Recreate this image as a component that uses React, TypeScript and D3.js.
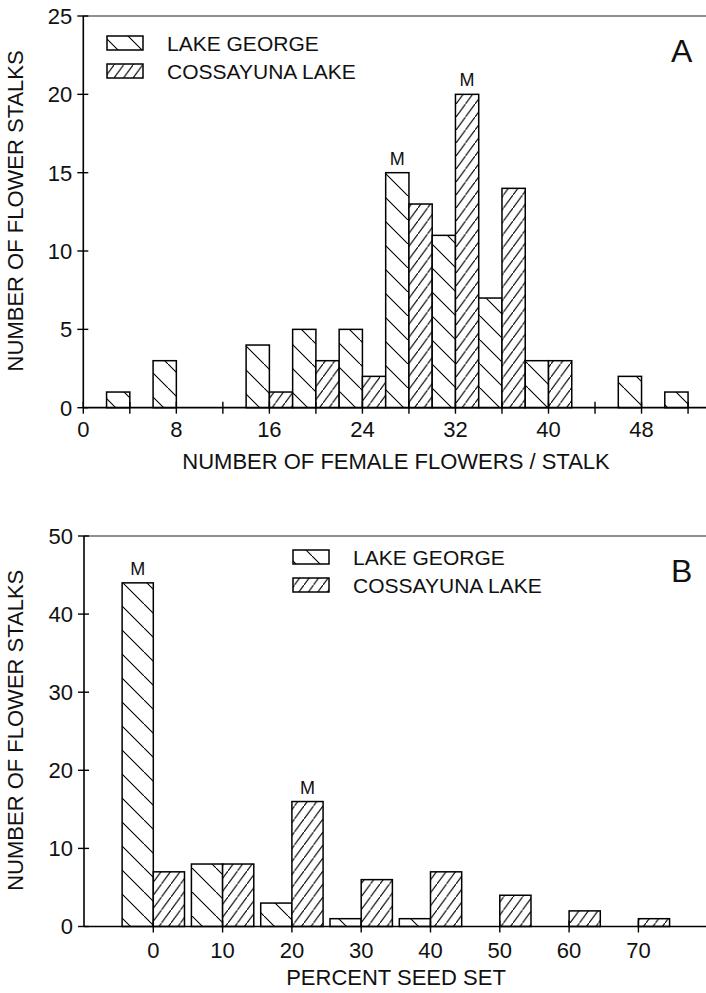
import React from 'react'
import * as d3 from 'd3'

// panel A: number of female flowers per stalk (class centres, 4 wide)
const flowerClasses = [4, 8, 12, 16, 20, 24, 28, 32, 36, 40, 44, 48, 52]
const lakeGeorgeFlowers = [1, 3, 0, 4, 5, 5, 15, 11, 7, 3, 0, 2, 1]
const cossayunaFlowers = [0, 0, 0, 1, 3, 2, 13, 20, 14, 3, 0, 0, 0]
const flowerXTicks = [0, 4, 8, 12, 16, 20, 24, 28, 32, 36, 40, 44, 48, 52]
const flowerXLabels = [0, 8, 16, 24, 32, 40, 48]
const flowerYTicks = [0, 5, 10, 15, 20, 25]
const flowerMedians = [28, 32] // lake george, cossayuna

// panel B: percent seed set
const seedClasses = [0, 10, 20, 30, 40, 50, 60, 70]
const lakeGeorgeSeed = [44, 8, 3, 1, 1, 0, 0, 0]
const cossayunaSeed = [7, 8, 16, 6, 7, 4, 2, 1]
const seedXTicks = [0, 10, 20, 30, 40, 50, 60, 70]
const seedYTicks = [0, 10, 20, 30, 40, 50]
const seedMedians = [0, 20]

const seriesNames = ['LAKE GEORGE', 'COSSAYUNA LAKE']

const FONT = '"Liberation Sans", Arial, Helvetica, sans-serif'
const W = 706

function Panel(props: any) {
  const { x, y, classes, lg, cs, half, xTicks, xLabels, yTicks, medians,
    xTitle, letter, legendX, legendY, xLabelY, xTitleY } = props
  const [y0, y1] = y.range()
  const x0 = x.range()[0]

  const bars: any[] = []
  classes.forEach((c: number, i: number) => {
    if (lg[i] > 0) bars.push({ x1: c - half, x2: c, v: lg[i], fill: 'url(#hatchLG)', key: 'lg' + c, m: medians[0] === c })
    if (cs[i] > 0) bars.push({ x1: c, x2: c + half, v: cs[i], fill: 'url(#hatchCS)', key: 'cs' + c, m: medians[1] === c })
  })

  return (
    <g>
      {/* frame */}
      <line x1={x0} x2={W + 2} y1={y1} y2={y1} stroke="#222" strokeWidth={1.2} />
      <line x1={x0} x2={x0} y1={y0} y2={y1} stroke="#000" strokeWidth={1.6} />

      {bars.map(b => (
        <g key={b.key}>
          <rect x={x(b.x1)} y={y(b.v)} width={x(b.x2) - x(b.x1)} height={y0 - y(b.v)}
            fill="#fff" stroke="none" />
          <rect x={x(b.x1)} y={y(b.v)} width={x(b.x2) - x(b.x1)} height={y0 - y(b.v)}
            fill={b.fill} stroke="#000" strokeWidth={1.5} />
          {b.m && (
            <text x={(x(b.x1) + x(b.x2)) / 2} y={y(b.v) - 8} textAnchor="middle"
              fontSize={18} fontFamily={FONT} fill="#111">M</text>
          )}
        </g>
      ))}

      <line x1={x0} x2={W + 2} y1={y0} y2={y0} stroke="#000" strokeWidth={1.7} />

      {xTicks.map((t: number) => (
        <line key={'xt' + t} x1={x(t)} x2={x(t)} y1={y0 - 6} y2={y0 + 6} stroke="#000" strokeWidth={1.4} />
      ))}
      {xLabels.map((t: number) => (
        <text key={'xl' + t} x={x(t)} y={xLabelY} textAnchor="middle" fontSize={22}
          fontFamily={FONT} fill="#111">{t}</text>
      ))}
      {yTicks.map((t: number) => (
        <g key={'yt' + t}>
          <line x1={x0 - 6} x2={x0 + 5} y1={y(t)} y2={y(t)} stroke="#000" strokeWidth={1.4} />
          <text x={x0 - 11} y={y(t)} dy="0.36em" textAnchor="end" fontSize={22}
            fontFamily={FONT} fill="#111">{t}</text>
        </g>
      ))}

      <text transform={`translate(23,${(y0 + y1) / 2 - 1}) rotate(-90)`} textAnchor="middle"
        fontSize={22} fontFamily={FONT} fill="#111">NUMBER OF FLOWER STALKS</text>
      <text x={(props.titleX)} y={xTitleY} textAnchor="middle" fontSize={22}
        fontFamily={FONT} fill="#111">{xTitle}</text>

      <text x={671} y={y1 + 46} fontSize={32} fontFamily={FONT} fill="#111">{letter}</text>

      {seriesNames.map((n, i) => (
        <g key={n}>
          <rect x={legendX} y={legendY + i * 28} width={36} height={14}
            fill={i === 0 ? 'url(#hatchLG)' : 'url(#hatchCS)'} stroke="#000" strokeWidth={1.5} />
          <text x={legendX + 60} y={legendY + i * 28 + 14.5} fontSize={21}
            fontFamily={FONT} fill="#111">{n}</text>
        </g>
      ))}
    </g>
  )
}

export default function App() {
  const xA = d3.scaleLinear().domain([0, 54]).range([83.3, 83.3 + 54 * 11.63])
  const yA = d3.scaleLinear().domain([0, 25]).range([407.7, 16])
  const xB = d3.scaleLinear().domain([-10, 80]).range([84, 84 + 90 * 6.93])
  const yB = d3.scaleLinear().domain([0, 50]).range([926.5, 536])

  return (
    <svg width={706} height={993} viewBox="0 0 706 993"
      style={{ position: 'absolute', left: 0, top: 0, background: '#fff' }}>
      <defs>
        <pattern id="hatchLG" patternUnits="userSpaceOnUse" width={24} height={24} x={0} y={4}>
          <path d="M-2,-2 L26,26" stroke="#000" strokeWidth={1.1} />
        </pattern>
        <pattern id="hatchCS" patternUnits="userSpaceOnUse" width={9.5} height={13}>
          <path d="M-1,14.37 L10.5,-1.37" stroke="#000" strokeWidth={1.1} />
        </pattern>
      </defs>
      <rect width={706} height={993} fill="#fff" />

      <Panel x={xA} y={yA} classes={flowerClasses} lg={lakeGeorgeFlowers} cs={cossayunaFlowers}
        half={2} xTicks={flowerXTicks} xLabels={flowerXLabels} yTicks={flowerYTicks}
        medians={flowerMedians} xTitle="NUMBER OF FEMALE FLOWERS / STALK" titleX={396}
        letter="A" legendX={107} legendY={36} xLabelY={437} xTitleY={469} />

      <Panel x={xB} y={yB} classes={seedClasses} lg={lakeGeorgeSeed} cs={cossayunaSeed}
        half={4.5} xTicks={seedXTicks} xLabels={seedXTicks} yTicks={seedYTicks}
        medians={seedMedians} xTitle="PERCENT SEED SET" titleX={396}
        letter="B" legendX={293} legendY={550} xLabelY={958} xTitleY={985} />
    </svg>
  )
}
